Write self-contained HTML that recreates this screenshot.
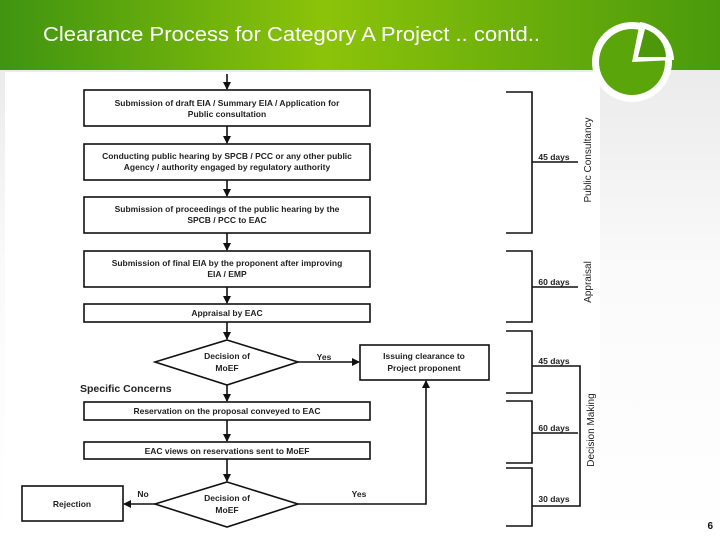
<!DOCTYPE html>
<html><head><style>
body{margin:0;width:720px;height:540px;overflow:hidden;background:#fff;font-family:"Liberation Sans",sans-serif;}
</style></head><body>
<svg width="720" height="540" xmlns="http://www.w3.org/2000/svg" font-family="Liberation Sans, sans-serif">
<defs>
<linearGradient id="hg" x1="0" y1="0" x2="1" y2="0">
<stop offset="0" stop-color="#3f9410"/><stop offset="0.45" stop-color="#8cc30a"/><stop offset="1" stop-color="#4a9a0c"/>
</linearGradient>
<linearGradient id="sg" x1="0" y1="0" x2="0" y2="1">
<stop offset="0" stop-color="#e6e6e6"/><stop offset="0.5" stop-color="#fafafa"/><stop offset="1" stop-color="#ffffff"/>
</linearGradient>
<marker id="a" markerWidth="8" markerHeight="8" refX="7" refY="4" orient="auto" markerUnits="userSpaceOnUse"><path d="M0,0 L8,4 L0,8z" fill="#111"/></marker>
</defs>
<rect x="0" y="0" width="720" height="540" fill="url(#sg)"/>
<rect x="5" y="72" width="595" height="464" fill="#fff"/>
<rect x="0" y="0" width="720" height="70" fill="url(#hg)"/>
<text x="43" y="41" font-size="20" fill="#fff" textLength="497" lengthAdjust="spacingAndGlyphs">Clearance Process for Category A Project .. contd..</text>
<circle cx="632" cy="62" r="40" fill="#fff"/>
<circle cx="632" cy="62" r="33" fill="#5aa50a"/>
<path d="M632,62 L640,22 A40 40 0 0 1 674,60 Z" fill="#fff"/>
<path d="M638,57 L645,29 A30 30 0 0 1 666,57 Z" fill="#4d980a"/>
<g stroke="#111" stroke-width="1.6" fill="none">
<line x1="227" y1="74" x2="227" y2="89" marker-end="url(#a)"/>
<rect x="84" y="90" width="286" height="36"/>
<line x1="227" y1="126" x2="227" y2="143" marker-end="url(#a)"/>
<rect x="84" y="144" width="286" height="36"/>
<line x1="227" y1="180" x2="227" y2="196" marker-end="url(#a)"/>
<rect x="84" y="197" width="286" height="36"/>
<line x1="227" y1="233" x2="227" y2="250" marker-end="url(#a)"/>
<rect x="84" y="251" width="286" height="36"/>
<line x1="227" y1="287" x2="227" y2="303" marker-end="url(#a)"/>
<rect x="84" y="304" width="286" height="18"/>
<line x1="227" y1="322" x2="227" y2="339" marker-end="url(#a)"/>
<polygon points="227,340 298,362 227,385 155,362"/>
<line x1="298" y1="362" x2="359" y2="362" marker-end="url(#a)"/>
<rect x="360" y="345" width="129" height="35"/>
<line x1="227" y1="385" x2="227" y2="401" marker-end="url(#a)"/>
<rect x="84" y="402" width="286" height="18"/>
<line x1="227" y1="420" x2="227" y2="441" marker-end="url(#a)"/>
<rect x="84" y="442" width="286" height="17"/>
<line x1="227" y1="459" x2="227" y2="481" marker-end="url(#a)"/>
<polygon points="227,482 298,504 227,527 155,504"/>
<line x1="155" y1="504" x2="124" y2="504" marker-end="url(#a)"/>
<rect x="22" y="486" width="101" height="35"/>
<polyline points="298,504 426,504 426,381" marker-end="url(#a)"/>
<polyline points="506,92 532,92 532,233 506,233"/><line x1="532" y1="162" x2="578" y2="162"/>
<polyline points="506,251 532,251 532,322 506,322"/><line x1="532" y1="287" x2="578" y2="287"/>
<polyline points="506,331 532,331 532,393 506,393"/>
<polyline points="506,401 532,401 532,463 506,463"/><line x1="532" y1="433" x2="578" y2="433"/>
<polyline points="506,468 532,468 532,526 506,526"/>
<polyline points="532,366 580,366 580,506 532,506"/>
</g>
<g font-size="8.5" fill="#222" text-anchor="middle" font-weight="bold">
<text x="227" y="106">Submission of draft EIA / Summary EIA / Application for</text>
<text x="227" y="117">Public consultation</text>
<text x="227" y="159">Conducting public hearing by SPCB / PCC or any other public</text>
<text x="227" y="170">Agency / authority engaged by regulatory authority</text>
<text x="227" y="212">Submission of proceedings of the public hearing by the</text>
<text x="227" y="223">SPCB / PCC to EAC</text>
<text x="227" y="266">Submission of final EIA by the proponent after improving</text>
<text x="227" y="277">EIA / EMP</text>
<text x="227" y="316">Appraisal by EAC</text>
<text x="227" y="359">Decision of</text>
<text x="227" y="371">MoEF</text>
<text x="424" y="359">Issuing clearance to</text>
<text x="424" y="371">Project proponent</text>
<text x="227" y="414">Reservation on the proposal conveyed to EAC</text>
<text x="227" y="454">EAC views on reservations sent to MoEF</text>
<text x="227" y="501">Decision of</text>
<text x="227" y="513">MoEF</text>
<text x="72" y="507">Rejection</text>
<text x="324" y="360">Yes</text>
<text x="143" y="497">No</text>
<text x="359" y="497">Yes</text>
<text x="554" y="160">45 days</text>
<text x="554" y="285">60 days</text>
<text x="554" y="364">45 days</text>
<text x="554" y="431">60 days</text>
<text x="554" y="502">30 days</text>
</g>
<text x="80" y="392" font-size="10.5" font-weight="bold" fill="#222">Specific Concerns</text>
<g font-size="10" fill="#222" text-anchor="middle">
<text transform="translate(591,160) rotate(-90)">Public Consultancy</text>
<text transform="translate(591,282) rotate(-90)">Appraisal</text>
<text transform="translate(594,430) rotate(-90)">Decision Making</text>
</g>
<text x="713" y="529" font-size="10" font-weight="bold" fill="#111" text-anchor="end">6</text>
</svg>
</body></html>
